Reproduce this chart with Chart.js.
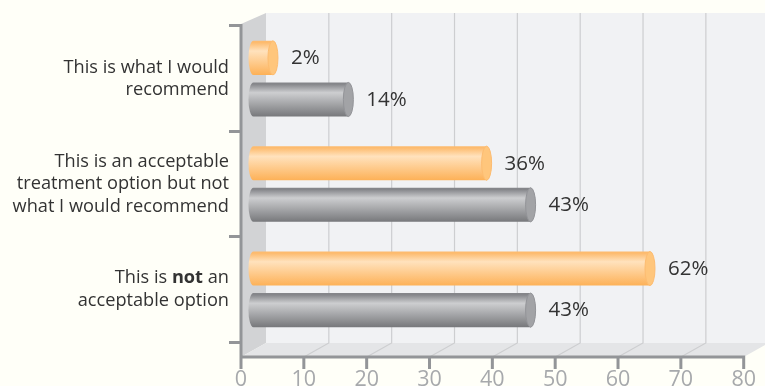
<!DOCTYPE html>
<html>
<head>
<meta charset="utf-8">
<style>
  html, body { margin: 0; padding: 0; background: #fffff8; }
  canvas { display: block; }
</style>
<script src="https://cdn.jsdelivr.net/npm/chart.js@4/dist/chart.umd.min.js"></script>
</head>
<body>
<canvas id="chart" width="765" height="386"></canvas>
<script>
// values from the picture
const categories = [
  ['This is what I would', 'recommend'],
  ['This is an acceptable', 'treatment option but not', 'what I would recommend'],
  ['This is *not* an', 'acceptable option']
];
const orangeValues = [2, 36, 62];
const grayValues = [14, 43, 43];
const xTicks = [0, 10, 20, 30, 40, 50, 60, 70, 80];

const labelFont = '"Open Sans", sans-serif';
const depthX = 25, depthY = 14;   // offset of the back wall
const barShift = 19.4;            // bars sit inside the 3d box
const barStart = -1.9;

const palette = {
  orange: { top: '#fdbb6e', light: '#ffe2bd', dark: '#fdb157', cap: '#ffc67c', capLine: '#fdbc70' },
  gray:   { top: '#85868a', light: '#cdced0', dark: '#77787b', cap: '#a2a3a6', capLine: '#939498' }
};

const boxPlugin = {
  id: 'box',
  beforeDatasetsDraw(chart) {
    const ctx = chart.ctx, xs = chart.scales.x;
    const left = xs.left, right = xs.right, floorY = 357, backY = floorY - depthY, topY = 13;
    ctx.save();
    // back wall
    ctx.fillStyle = '#f1f2f4';
    ctx.fillRect(left + depthX, topY, 765 - left - depthX, backY - topY);
    // left wall
    ctx.fillStyle = '#d2d3d5';
    ctx.beginPath();
    ctx.moveTo(left, 24); ctx.lineTo(left + depthX, topY);
    ctx.lineTo(left + depthX, backY); ctx.lineTo(left, floorY);
    ctx.closePath(); ctx.fill();
    // floor
    ctx.fillStyle = '#e4e5e7';
    ctx.beginPath();
    ctx.moveTo(left, floorY); ctx.lineTo(left + depthX, backY);
    ctx.lineTo(765, backY); ctx.lineTo(765, floorY - (765 - right) * depthY / depthX);
    ctx.lineTo(right, floorY);
    ctx.closePath(); ctx.fill();
    // grid lines on wall and floor
    ctx.strokeStyle = '#cdced0';
    ctx.lineWidth = 1.2;
    xTicks.forEach(v => {
      if (v === 0 || v === 80) return;
      const x = xs.getPixelForValue(v);
      ctx.beginPath();
      ctx.moveTo(x + depthX, topY); ctx.lineTo(x + depthX, backY); ctx.lineTo(x, floorY);
      ctx.stroke();
    });
    // axis line and ticks
    ctx.strokeStyle = '#939598';
    ctx.lineWidth = 3;
    ctx.beginPath();
    ctx.moveTo(left, 24); ctx.lineTo(left, floorY + 1.5);
    ctx.moveTo(left, floorY); ctx.lineTo(right + 1.5, floorY);
    xTicks.forEach(v => {
      const x = xs.getPixelForValue(v);
      ctx.moveTo(x, floorY); ctx.lineTo(x, floorY + 12);
    });
    ctx.stroke();
    ctx.restore();
  },
  afterDatasetsDraw(chart) {
    const ctx = chart.ctx;
    chart.data.datasets.forEach((ds, di) => {
      const c = palette[ds.tone];
      chart.getDatasetMeta(di).data.forEach((bar, i) => {
        const x0 = bar.base + barShift, x1 = bar.x + barShift;
        const h = bar.height, top = bar.y - h / 2, bot = bar.y + h / 2, rx = 5;
        const g = ctx.createLinearGradient(0, top, 0, bot);
        g.addColorStop(0, c.top); g.addColorStop(0.05, c.top);
        g.addColorStop(0.3, c.light); g.addColorStop(1, c.dark);
        ctx.save();
        ctx.fillStyle = g;
        ctx.beginPath();
        ctx.ellipse(x0 + rx, bar.y, rx, h / 2, 0, Math.PI / 2, Math.PI * 1.5);
        ctx.lineTo(x1, top);
        ctx.lineTo(x1, bot);
        ctx.closePath();
        ctx.fill();
        ctx.fillStyle = c.cap;
        ctx.strokeStyle = c.capLine;
        ctx.lineWidth = 1;
        ctx.beginPath();
        ctx.ellipse(x1, bar.y, rx, h / 2, 0, 0, Math.PI * 2);
        ctx.fill(); ctx.stroke();
        // value label
        ctx.fillStyle = '#333333';
        ctx.font = '20.5px ' + labelFont;
        ctx.textAlign = 'left';
        ctx.textBaseline = 'middle';
        ctx.fillText(ds.data[i] + '%', x1 + 18, bar.y + 0.5);
        ctx.restore();
      });
    });
  },
  afterDraw(chart) {
    // category labels by hand, one word in the last one is bold
    const ctx = chart.ctx, ys = chart.scales.y;
    const regular = '18.2px ' + labelFont, bold = 'bold 18.2px ' + labelFont;
    ctx.save();
    ctx.fillStyle = '#333333';
    ctx.textBaseline = 'middle';
    ctx.textAlign = 'left';
    categories.forEach((lines, i) => {
      const cy = ys.getPixelForValue(i);
      lines.forEach((line, n) => {
        const y = cy + (n - (lines.length - 1) / 2) * 22.5;
        const runs = line.split('*');
        let w = 0;
        runs.forEach((r, k) => { ctx.font = k % 2 ? bold : regular; w += ctx.measureText(r).width; });
        let x = 229 - w;
        runs.forEach((r, k) => {
          ctx.font = k % 2 ? bold : regular;
          ctx.fillText(r, x, y);
          x += ctx.measureText(r).width;
        });
      });
    });
    ctx.restore();
  }
};

new Chart(document.getElementById('chart'), {
  type: 'bar',
  data: {
    labels: categories.map(l => l.join(' ').replace(/\*/g, '')),
    datasets: [
      { label: 'Orange', tone: 'orange', data: orangeValues, base: barStart, backgroundColor: 'transparent' },
      { label: 'Gray', tone: 'gray', data: grayValues, base: barStart, backgroundColor: 'transparent' }
    ]
  },
  options: {
    indexAxis: 'y',
    responsive: false,
    animation: false,
    events: [],
    categoryPercentage: 0.79,
    barPercentage: 0.82,
    layout: { padding: { top: 26, right: 21.3, left: 0, bottom: 0 } },
    plugins: { legend: { display: false }, tooltip: { enabled: false } },
    scales: {
      x: {
        type: 'linear',
        min: 0,
        max: 80,
        afterBuildTicks(axis) { axis.ticks = xTicks.map(v => ({ value: v })); },
        afterFit(axis) { axis.height = 44; axis.paddingLeft = 0; axis.paddingRight = 0; },
        grid: { display: false },
        border: { display: false },
        ticks: {
          autoSkip: false,
          maxRotation: 0,
          padding: 17,
          color: '#a7a9ac',
          font: { family: '"Open Sans", sans-serif', size: 21.5 }
        }
      },
      y: {
        afterFit(axis) { axis.width = 241; },
        grid: { offset: true, drawOnChartArea: false, color: '#939598', lineWidth: 3, tickLength: 12 },
        border: { color: '#939598', width: 3 },
        ticks: { display: false }
      }
    }
  },
  plugins: [boxPlugin]
});
</script>
</body>
</html>
